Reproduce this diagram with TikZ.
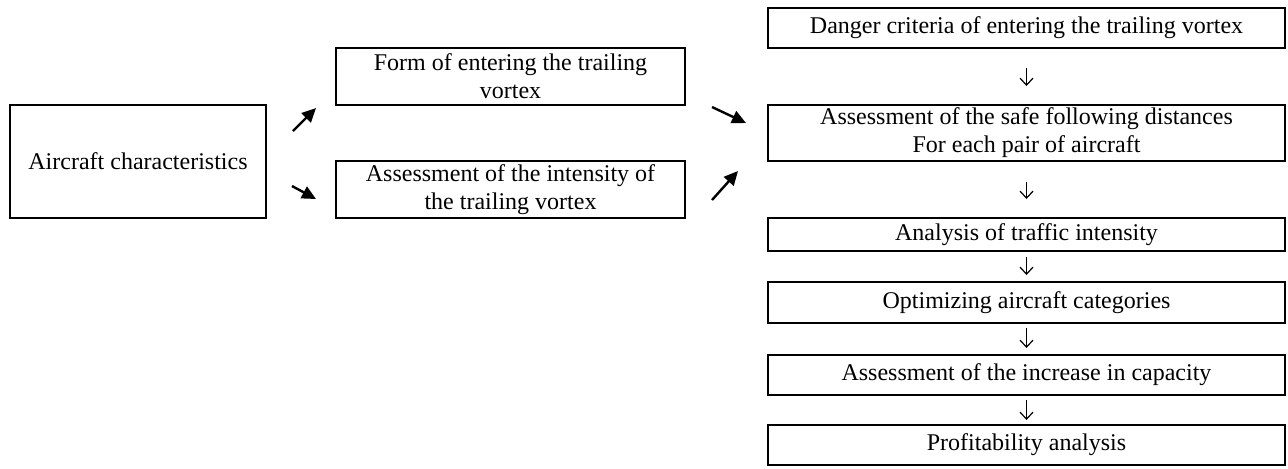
\documentclass[tikz,border=0pt]{standalone}
\usepackage{fontspec}
\setmainfont{Liberation Serif}
\usetikzlibrary{arrows.meta}

\begin{document}
\begin{tikzpicture}[x=0.5pt, y=-0.5pt,
  every node/.style={draw, line width=1.2pt, inner sep=0pt, outer sep=0pt, align=center,
    font=\fontsize{12}{14}\selectfont},
  stagebox/.style={minimum width=258.5pt, minimum height=#1},
  sidebox/.style={minimum width=174.5pt, minimum height=28.5pt},
  fatarrow/.style={-{Triangle[length=7pt, width=6.5pt]}, line width=1.2pt},
  thinarrow/.style={-{Straight Barb[length=3.5pt, width=6.5pt]}, line width=0.6pt}]
\useasboundingbox (0,0) rectangle (1288,468);

\node[minimum width=128pt, minimum height=56.5pt] (air) at (138,161.5) {Aircraft characteristics};
\node[sidebox] (form) at (510.5,76.5) {Form of entering the trailing\\vortex};
\node[sidebox] (inten) at (510.5,189.5) {Assessment of the intensity of\\the trailing vortex};

\node[stagebox=20pt] (crit) at (1026.5,28) {Danger criteria of entering the trailing vortex};
\node[stagebox=28pt] (safe) at (1026.5,133) {Assessment of the safe following distances\\For each pair of aircraft};
\node[stagebox=16.5pt] (traf) at (1026.5,234.5) {Analysis of traffic intensity};
\node[stagebox=20.5pt] (optim) at (1026.5,302.5) {Optimizing aircraft categories};
\node[stagebox=20pt] (capac) at (1026.5,375) {Assessment of the increase in capacity};
\node[stagebox=20pt] (profit) at (1026.5,445) {Profitability analysis};

% diagonal arrows
\coordinate (airup1) at (293,131);
\coordinate (airup2) at (316,108);
\coordinate (airdn1) at (292,186);
\coordinate (airdn2) at (316,199);
\coordinate (formdn1) at (712,107);
\coordinate (formdn2) at (746,123);
\coordinate (intup1) at (712,200);
\coordinate (intup2) at (738,171);
\draw[fatarrow] (airup1) -- (airup2);
\draw[fatarrow] (airdn1) -- (airdn2);
\draw[fatarrow] (formdn1) -- (formdn2);
\draw[fatarrow] (intup1) -- (intup2);

% vertical arrows
\draw[thinarrow, shorten <=10pt, shorten >=9.5pt] (crit) -- (safe);
\draw[thinarrow, shorten <=10.5pt, shorten >=9.5pt] (safe) -- (traf);
\draw[thinarrow, shorten <=3pt, shorten >=3.5pt] (traf) -- (optim);
\draw[thinarrow, shorten <=2.5pt, shorten >=3.5pt] (optim) -- (capac);
\draw[thinarrow, shorten <=2.5pt, shorten >=2.5pt] (capac) -- (profit);
\end{tikzpicture}
\end{document}
